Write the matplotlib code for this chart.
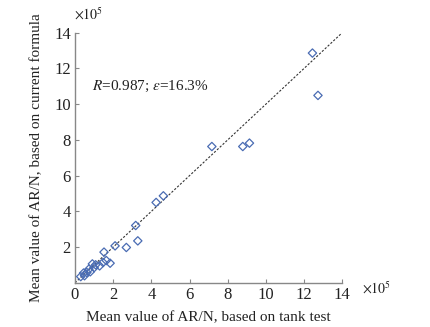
import numpy as np
import matplotlib
matplotlib.use("Agg")
from matplotlib import pyplot as plt

plt.rcParams['font.family'] = ['Liberation Serif', 'DejaVu Serif']
plt.rcParams['mathtext.fontset'] = 'stix'

# tank test (x) vs current formula (y), units of 1e5
tank = [0.30, 0.45, 0.50, 0.62, 0.73, 0.80, 0.91, 1.00, 1.08, 1.29, 1.47, 1.64, 1.84, 1.52,
        2.10, 2.69, 3.18, 3.29, 4.25, 4.63, 7.17, 8.79, 9.14, 12.44, 12.73]
formula = [0.35, 0.55, 0.40, 0.58, 0.77, 0.62, 1.06, 0.85, 1.01, 0.95, 1.14, 1.25, 1.10, 1.72,
           2.07, 1.98, 3.21, 2.35, 4.50, 4.87, 7.63, 7.63, 7.82, 12.86, 10.49]
x_ticks = [0, 2, 4, 6, 8, 10, 12, 14]
y_ticks = [2, 4, 6, 8, 10, 12, 14]

fig = plt.figure(figsize=(4.31, 3.27), dpi=100)
ax = fig.add_axes([0.174, 0.135, 0.62, 0.765])

ax.plot([0, 14], [0, 14], linestyle=(0, (2, 1.5)), color='#333333', linewidth=0.8)
ax.scatter(tank, formula, marker='D', s=18, facecolors='none', edgecolors='#4a6cb3', linewidths=0.9, zorder=3)

ax.set_xlim(0, 14)
ax.set_ylim(0, 14)
ax.set_xticks(x_ticks)
ax.set_yticks(y_ticks)
for s in ['top', 'right']:
    ax.spines[s].set_visible(False)
for s in ['left', 'bottom']:
    ax.spines[s].set_color('#888888')
    ax.spines[s].set_linewidth(1.0)
ax.tick_params(direction='in', length=3, color='#888888', labelsize=12, labelcolor='#222222', pad=3)

ax.set_xlabel('Mean value of AR/N, based on tank test', fontsize=11, color='#222222', labelpad=6)
ax.set_ylabel('Mean value of AR/N, based on current formula', fontsize=11, color='#222222', labelpad=8)

ax.text(0.9, 11.0, r'$R$=0.987; $\varepsilon$=16.3%', fontsize=11, va='center', color='#222222')
fig.text(0.172, 0.955, r'$\times10^5$', fontsize=10, color='#222222', va='center')
fig.text(0.84, 0.118, r'$\times10^5$', fontsize=10, color='#222222', va='center')

fig.savefig('out.png', dpi=100)
